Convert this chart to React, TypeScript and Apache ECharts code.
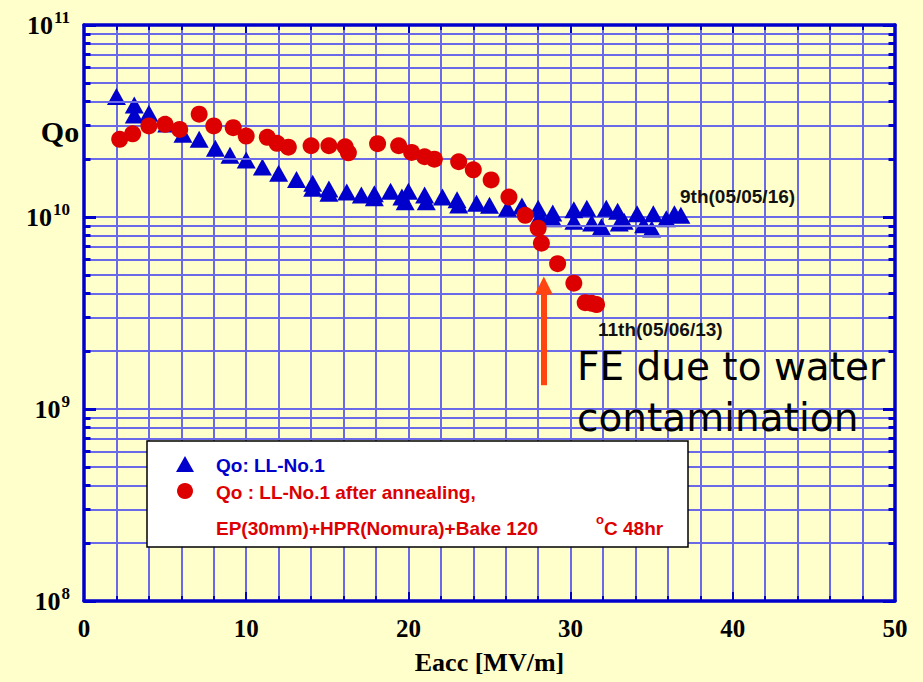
import React, { useEffect, useRef } from "react";
import * as echarts from "echarts";

const blueName = "Qo: LL-No.1";
const redName = "Qo : LL-No.1 after annealing, EP(30mm)+HPR(Nomura)+Bake 120 °C 48hr";

const blueEacc = [2.0, 3.1, 3.1, 4.0, 5.1, 6.1, 7.1, 8.1, 9.0, 10.0, 11.0, 12.0, 13.1, 14.1, 14.1, 15.1, 15.1, 16.2, 17.1, 17.9, 17.9, 18.9, 19.6, 19.8, 20.0, 21.0, 21.1, 22.1, 23.0, 23.1, 24.2, 25.0, 26.1, 27.0, 28.0, 28.1, 28.9, 28.9, 30.2, 30.2, 31.0, 31.3, 31.9, 32.2, 32.9, 33.0, 33.3, 34.1, 34.5, 35.0, 35.1, 35.9, 36.4, 36.8];
const blueQo = [4.24e10, 3.83e10, 3.40e10, 3.47e10, 3.05e10, 2.70e10, 2.54e10, 2.28e10, 2.10e10, 1.98e10, 1.82e10, 1.69e10, 1.57e10, 1.50e10, 1.41e10, 1.40e10, 1.33e10, 1.35e10, 1.30e10, 1.32e10, 1.26e10, 1.36e10, 1.27e10, 1.20e10, 1.36e10, 1.30e10, 1.20e10, 1.27e10, 1.23e10, 1.155e10, 1.18e10, 1.15e10, 1.11e10, 1.14e10, 1.11e10, 1.01e10, 1.05e10, 9.8e9, 1.09e10, 9.5e9, 1.11e10, 9.3e9, 8.9e9, 1.11e10, 1.07e10, 9.3e9, 9.5e9, 1.04e10, 9.1e9, 8.65e9, 1.04e10, 9.8e9, 1.04e10, 1.02e10];

const redEacc = [2.2, 3.0, 4.0, 5.0, 5.9, 7.1, 8.0, 9.2, 10.0, 11.3, 11.9, 12.6, 14.0, 15.1, 16.1, 16.3, 18.1, 19.4, 20.2, 21.0, 21.6, 23.1, 24.0, 25.1, 26.2, 27.2, 28.0, 28.2, 29.2, 30.2, 30.9, 31.3, 31.6];
const redQo = [2.54e10, 2.71e10, 2.98e10, 3.04e10, 2.86e10, 3.43e10, 2.98e10, 2.92e10, 2.64e10, 2.60e10, 2.42e10, 2.31e10, 2.35e10, 2.35e10, 2.32e10, 2.16e10, 2.41e10, 2.35e10, 2.17e10, 2.06e10, 2.00e10, 1.94e10, 1.76e10, 1.56e10, 1.27e10, 1.02e10, 8.74e9, 7.3e9, 5.71e9, 4.52e9, 3.58e9, 3.55e9, 3.50e9];

const decades = [1e8, 1e9, 1e10];
const minorMultipliers = [2, 3, 4, 5, 6, 7, 8, 9];
const xMin = 0;
const xMax = 50;
const yMin = 1e8;
const yMax = 1e11;

// FE arrow (Eacc, Qo from -> to)
const arrowEacc = 28.35;
const arrowFrom = 1.33e9;
const arrowTo = 4.4e9;

const GRID_COLOR = "#6a6ae8";
const AXIS_COLOR = "#0000cc";
const SERIF = '"Liberation Serif", "Times New Roman", serif';
const SANS = '"Liberation Sans", Arial, sans-serif';

export default function App() {
  const ref = useRef<HTMLDivElement>(null);
  useEffect(() => {
    if (!ref.current) return;
    const chart = echarts.init(ref.current, null, { renderer: "svg" });

    const minorLevels: number[] = [];
    decades.forEach((d) => minorMultipliers.forEach((m) => minorLevels.push(d * m)));

    const gridLines = minorLevels.map((v) => ({ yAxis: v }));
    const leftTicks: any[] = [];
    const rightTicks: any[] = [];
    minorLevels.forEach((v) => {
      leftTicks.push([{ coord: [xMin, v] }, { coord: [xMin + 0.4, v] }]);
      rightTicks.push([{ coord: [xMax - 0.4, v] }, { coord: [xMax, v] }]);
    });

    const xAxisBase = {
      type: "value",
      min: xMin,
      max: xMax,
      interval: 10,
      axisLine: { show: true, onZero: false, lineStyle: { color: AXIS_COLOR, width: 3.5 } },
      axisTick: { show: true, inside: true, length: 9, lineStyle: { color: AXIS_COLOR, width: 2 } },
      minorTick: { show: true, splitNumber: 5, length: 5, lineStyle: { color: AXIS_COLOR, width: 2 } },
    };
    const yAxisBase = {
      type: "log",
      logBase: 10,
      min: yMin,
      max: yMax,
      axisLine: { show: true, onZero: false, lineStyle: { color: AXIS_COLOR, width: 3.5 } },
      axisTick: { show: true, inside: true, length: 12, lineStyle: { color: AXIS_COLOR, width: 3 } },
    };

    const txt = (text: string, x: number, y: number, font: string, fill: string, extra: any = {}) => ({
      type: "text",
      z: 11,
      style: { text, x, y, verticalAlign: "middle", textVerticalAlign: "middle", font, fill, ...extra },
    });

    const option: any = {
      animation: false,
      backgroundColor: "#ffffcc",
      grid: { left: 84, right: 28, top: 25, bottom: 81, containLabel: false, outerBoundsMode: "none" },
      xAxis: [
        {
          ...xAxisBase,
          position: "bottom",
          name: "Eacc [MV/m]",
          nameLocation: "middle",
          nameGap: 48,
          nameTextStyle: { fontFamily: SERIF, fontWeight: "bold", fontSize: 26, color: "#000" },
          axisLabel: { margin: 15, fontFamily: SERIF, fontWeight: "bold", fontSize: 25, color: "#000" },
          splitLine: { show: true, lineStyle: { color: GRID_COLOR, width: 2 } },
          minorSplitLine: { show: true, lineStyle: { color: GRID_COLOR, width: 2 } },
        },
        {
          ...xAxisBase,
          position: "top",
          axisLabel: { show: false },
          splitLine: { show: false },
        },
      ],
      yAxis: [
        {
          ...yAxisBase,
          position: "left",
          axisLabel: {
            margin: 14,
            formatter: (v: number) => `{b|10}{s|${Math.round(Math.log10(v))}}`,
            rich: {
              b: { fontFamily: SERIF, fontWeight: "bold", fontSize: 26, color: "#000" },
              s: { fontFamily: SERIF, fontWeight: "bold", fontSize: 17, color: "#000", padding: [0, 0, 16, 1] },
            },
          },
          splitLine: { show: true, lineStyle: { color: GRID_COLOR, width: 2 } },
        },
        {
          ...yAxisBase,
          position: "right",
          axisLabel: { show: false },
          splitLine: { show: false },
        },
      ],
      series: [
        {
          name: "minor-grid",
          type: "scatter",
          data: [],
          silent: true,
          z: 1,
          markLine: {
            silent: true,
            symbol: ["none", "none"],
            label: { show: false },
            lineStyle: { color: GRID_COLOR, width: 2, type: "solid" },
            data: gridLines,
          },
        },
        {
          name: "minor-ticks",
          type: "scatter",
          data: [],
          silent: true,
          z: 3,
          markLine: {
            silent: true,
            symbol: ["none", "none"],
            label: { show: false },
            lineStyle: { color: AXIS_COLOR, width: 3, type: "solid" },
            data: [...leftTicks, ...rightTicks],
          },
        },
        {
          name: blueName,
          type: "scatter",
          symbol: "triangle",
          symbolSize: [19, 17],
          itemStyle: { color: "#0000cc", opacity: 1 },
          z: 4,
          data: blueEacc.map((x, i) => [x, blueQo[i]]),
        },
        {
          name: redName,
          type: "scatter",
          symbol: "circle",
          symbolSize: 17,
          itemStyle: { color: "#dd0000", opacity: 1 },
          z: 5,
          data: redEacc.map((x, i) => [x, redQo[i]]),
        },
        {
          name: "FE arrow",
          type: "scatter",
          data: [],
          silent: true,
          z: 6,
          markLine: {
            silent: true,
            symbol: ["none", "triangle"],
            symbolSize: [18, 18],
            label: { show: false },
            lineStyle: { color: "#ff4411", width: 6, type: "solid", opacity: 1 },
            itemStyle: { color: "#ff4411", opacity: 1 },
            data: [[{ coord: [arrowEacc, arrowFrom] }, { coord: [arrowEacc, arrowTo] }]],
          },
        },
      ],
      graphic: [
        txt("Qo", 60, 131, `bold 30px ${SERIF}`, "#000", { align: "center", textAlign: "center" }),
        {
          type: "rect",
          z: 10,
          shape: { x: 147, y: 441, width: 541, height: 106 },
          style: { fill: "#ffffff", stroke: "#000000", lineWidth: 1.5 },
        },
        {
          type: "polygon",
          z: 11,
          shape: { points: [[185, 456], [176, 472], [194, 472]] },
          style: { fill: "#0000cc" },
        },
        {
          type: "circle",
          z: 11,
          shape: { cx: 185, cy: 491, r: 8 },
          style: { fill: "#dd0000" },
        },
        txt("Qo: LL-No.1", 216, 465, `bold 19px ${SANS}`, "#0000cc"),
        txt("Qo : LL-No.1 after annealing,", 216, 492, `bold 19px ${SANS}`, "#dd0000"),
        txt("EP(30mm)+HPR(Nomura)+Bake 120", 216, 528, `bold 19px ${SANS}`, "#dd0000"),
        txt("o", 596, 519, `bold 13px ${SANS}`, "#dd0000"),
        txt("C 48hr", 604, 528, `bold 19px ${SANS}`, "#dd0000"),
        txt("9th(05/05/16)", 680, 196, `bold 19px ${SANS}`, "#111"),
        txt("11th(05/06/13)", 598, 329, `bold 19px ${SANS}`, "#111"),
        txt("FE due to water", 577, 366, `39px "DejaVu Sans", sans-serif`, "#000"),
        txt("contamination", 577, 417, `39px "DejaVu Sans", sans-serif`, "#000"),
      ],
    };

    chart.setOption(option);
    return () => chart.dispose();
  }, []);

  return (
    <div
      ref={ref}
      style={{ position: "absolute", left: 0, top: 0, width: 923, height: 682 }}
    />
  );
}
